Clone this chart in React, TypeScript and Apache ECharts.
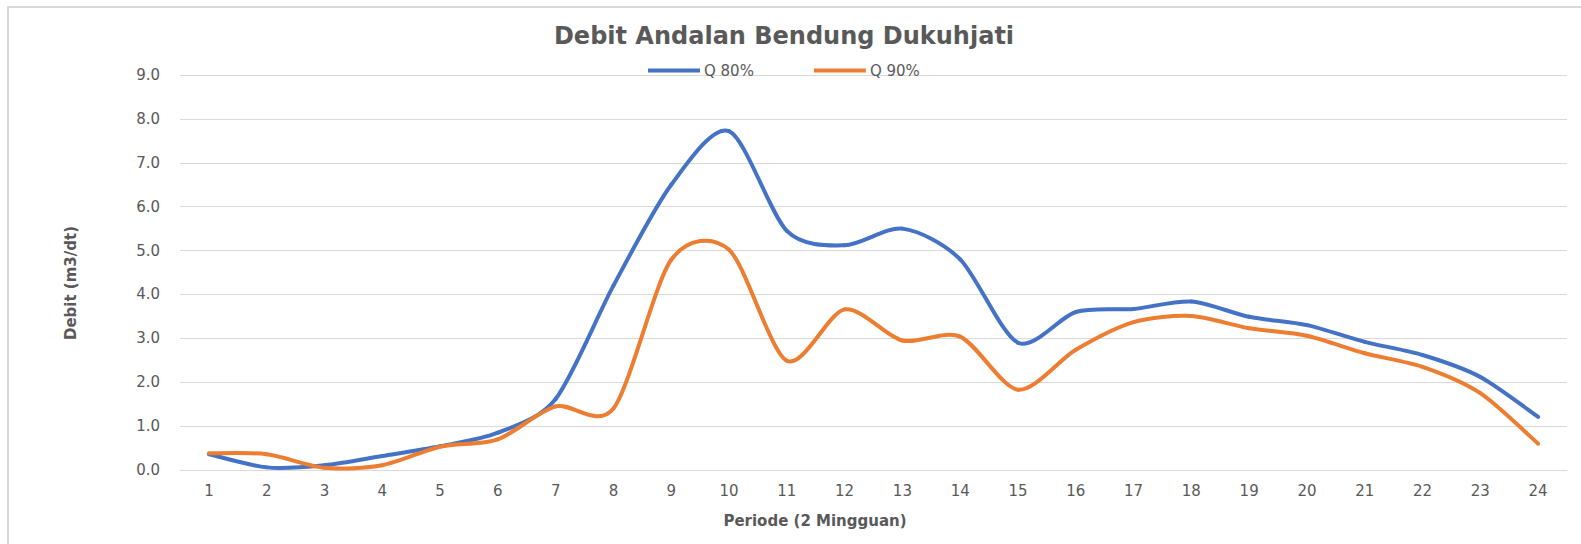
import React, { useEffect, useRef } from "react";
import * as echarts from "echarts";

const periods = ["1","2","3","4","5","6","7","8","9","10","11","12","13","14","15","16","17","18","19","20","21","22","23","24"];
const q80 = [0.36, 0.06, 0.11, 0.32, 0.54, 0.85, 1.62, 4.2, 6.5, 7.72, 5.45, 5.12, 5.5, 4.8, 2.9, 3.6, 3.67, 3.84, 3.49, 3.3, 2.92, 2.62, 2.12, 1.21];
const q90 = [0.38, 0.36, 0.05, 0.11, 0.53, 0.7, 1.45, 1.4, 4.79, 5.02, 2.49, 3.66, 2.95, 3.04, 1.83, 2.74, 3.37, 3.51, 3.23, 3.06, 2.66, 2.35, 1.75, 0.6];
const seriesNames = ["Q 80%", "Q 90%"];
const colors = ["#4472C4", "#ED7D31"];
const titleText = "Debit Andalan Bendung Dukuhjati";
const yName = "Debit (m3/dt)";
const xName = "Periode (2 Mingguan)";

const FONT = "DejaVu Sans";
const TXT = "#595959";

// Excel-like smoothed line: cardinal-spline segments drawn through the axis scales
function smoothSeries(name: string, values: number[], color: string) {
  const n = values.length;
  const clampIdx = (k: number) => Math.max(0, Math.min(n - 1, k));
  return {
    name,
    type: "custom",
    data: values.map((v, i) => [i, v]),
    encode: { x: 0, y: 1 },
    itemStyle: { color },
    z: 3,
    renderItem: (params: any, api: any) => {
      const i = params.dataIndex;
      if (i >= n - 1) return null;
      const P = (k: number) => {
        const j = clampIdx(k);
        return api.coord([j, values[j]]);
      };
      const p0 = P(i - 1);
      const p1 = P(i);
      const p2 = P(i + 1);
      const p3 = P(i + 2);
      const t = 0.14;
      const c1x = p1[0] + (p2[0] - p0[0]) * t;
      const c1y = p1[1] + (p2[1] - p0[1]) * t;
      const c2x = p2[0] - (p3[0] - p1[0]) * t;
      const c2y = p2[1] - (p3[1] - p1[1]) * t;
      const d = `M${p1[0]},${p1[1]} C${c1x},${c1y} ${c2x},${c2y} ${p2[0]},${p2[1]}`;
      return {
        type: "path",
        shape: { pathData: d },
        style: { fill: "none", stroke: color, lineWidth: 4, lineCap: "round" },
      };
    },
  };
}

export default function App() {
  const ref = useRef<HTMLDivElement>(null);
  useEffect(() => {
    if (!ref.current) return;
    const chart = echarts.init(ref.current, null, { renderer: "svg" });
    chart.setOption({
      animation: false,
      backgroundColor: "#ffffff",
      textStyle: { fontFamily: FONT },
      title: {
        text: titleText,
        left: 779,
        textAlign: "center",
        top: 19,
        textStyle: { fontFamily: FONT, fontSize: 24, fontWeight: "bold", color: TXT },
      },
      legend: {
        left: 643,
        top: 58,
        icon: "rect",
        itemWidth: 52,
        itemHeight: 4,
        itemGap: 60,
        textStyle: { fontFamily: FONT, fontSize: 15, color: TXT, padding: [0, 0, 0, -1] },
        data: seriesNames.map((nm, k) => ({ name: nm, itemStyle: { color: colors[k] } })),
      },
      grid: { left: 180, right: 14, top: 75, bottom: 74, containLabel: false },
      xAxis: {
        type: "category",
        data: periods,
        boundaryGap: true,
        axisLine: { show: true, lineStyle: { color: "#d9d9d9", width: 1 } },
        axisTick: { show: false },
        axisLabel: { margin: 13, fontFamily: FONT, fontSize: 15, color: TXT },
        splitLine: { show: false },
      },
      yAxis: {
        type: "value",
        min: 0,
        max: 9,
        interval: 1,
        axisLine: { show: false },
        axisTick: { show: false },
        axisLabel: {
          margin: 20,
          fontFamily: FONT,
          fontSize: 15,
          color: TXT,
          formatter: (v: number) => v.toFixed(1),
        },
        splitLine: { show: true, lineStyle: { color: "#d9d9d9", width: 1 } },
      },
      graphic: [
        {
          type: "rect",
          shape: { x: 8, y: 7, width: 1600, height: 600 },
          style: { fill: "none", stroke: "#d9d9d9", lineWidth: 2 },
          silent: true,
        },
        {
          type: "text",
          x: 71,
          y: 283,
          rotation: Math.PI / 2,
          style: {
            text: yName,
            fontFamily: FONT,
            fontSize: 15,
            fontWeight: "bold",
            fill: TXT,
            align: "center",
            verticalAlign: "middle",
          },
        },
        {
          type: "text",
          x: 815,
          y: 521,
          style: {
            text: xName,
            fontFamily: FONT,
            fontSize: 15,
            fontWeight: "bold",
            fill: TXT,
            align: "center",
            verticalAlign: "middle",
          },
        },
      ],
      series: [
        smoothSeries(seriesNames[0], q80, colors[0]),
        smoothSeries(seriesNames[1], q90, colors[1]),
      ],
    });
    return () => chart.dispose();
  }, []);
  return (
    <div
      ref={ref}
      style={{ position: "absolute", left: 0, top: 0, width: 1581, height: 544 }}
    />
  );
}
